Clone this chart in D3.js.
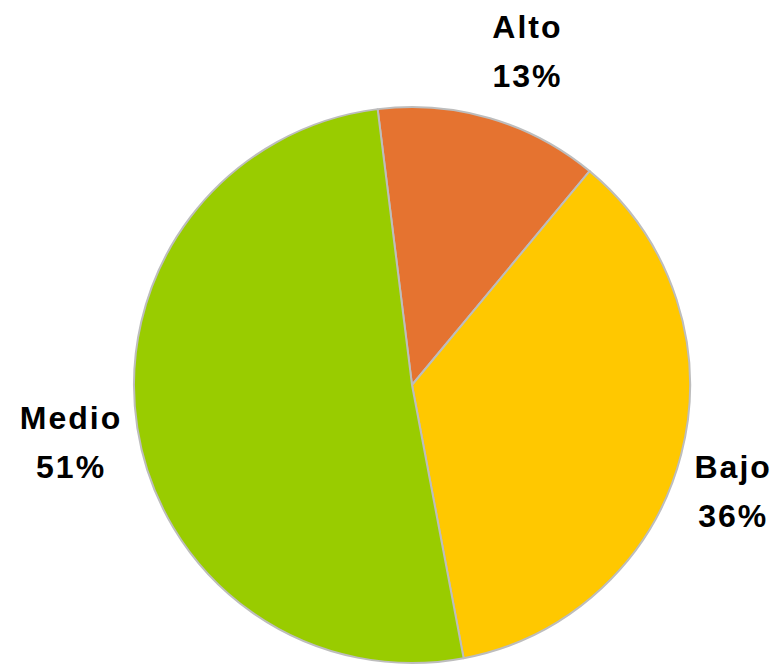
<!DOCTYPE html>
<html>
<head>
<meta charset="utf-8">
<script src="https://cdn.jsdelivr.net/npm/d3@7"></script>
<style>
  body { margin: 0; background: #fff; }
  text { font-family: "Liberation Sans", Arial, sans-serif; font-weight: bold; }
</style>
</head>
<body>
<svg width="779" height="665"></svg>
<script>
const categories = ['Alto', 'Bajo', 'Medio'];
const values = [13, 36, 51];
const colors = ['#e57330', '#ffc800', '#99cc00'];

const svg = d3.select('svg');
const cx = 412, cy = 385, radius = 278;

const pie = d3.pie()
  .sort(null)
  .startAngle(-7.1 * Math.PI / 180)
  .endAngle(2 * Math.PI - 7.1 * Math.PI / 180);

const arc = d3.arc().innerRadius(0).outerRadius(radius);

const slices = pie(values).map((d, i) => ({...d, name: categories[i], color: colors[i]}));

const g = svg.append('g').attr('transform', `translate(${cx},${cy})`);

g.selectAll('path')
  .data(slices)
  .enter().append('path')
    .attr('d', arc)
    .attr('fill', d => d.color)
    .attr('stroke', '#bdbdbd')
    .attr('stroke-width', 2)
    .attr('stroke-linejoin', 'round');

// label nudges, Excel-style placement outside the pie
const nudge = {Alto: [20, -21], Bajo: [-8, 8], Medio: [-5, -9]};
const labelArc = d3.arc().innerRadius(340).outerRadius(340);

const labels = g.selectAll('g.label')
  .data(slices)
  .enter().append('g')
    .attr('class', 'label')
    .attr('transform', d => {
      const [x, y] = labelArc.centroid(d);
      const [nx, ny] = nudge[d.name];
      return `translate(${x + nx},${y + ny})`;
    });

labels.append('text')
  .attr('text-anchor', 'middle')
  .attr('y', 0)
  .attr('font-size', 32)
  .attr('letter-spacing', 2)
  .attr('fill', '#000')
  .text(d => d.name);

labels.append('text')
  .attr('text-anchor', 'middle')
  .attr('y', 49)
  .attr('font-size', 32)
  .attr('letter-spacing', 2)
  .attr('fill', '#000')
  .text(d => d.data + '%');
</script>
</body>
</html>
